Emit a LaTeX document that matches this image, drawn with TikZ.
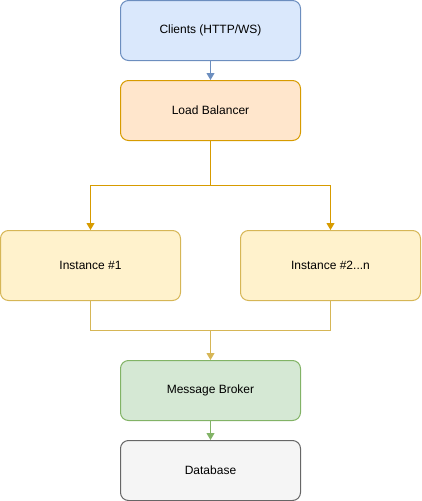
\documentclass[tikz,border=0pt]{standalone}
\usepackage{fontspec}
\setmainfont{Liberation Sans}
\usepackage{tikz}
\usetikzlibrary{arrows.meta}
\usetikzlibrary{calc}

\definecolor{bluefill}{HTML}{DAE8FC}
\definecolor{blueline}{HTML}{6C8EBF}
\definecolor{orangefill}{HTML}{FFE6CC}
\definecolor{orangeline}{HTML}{D79B00}
\definecolor{yellowfill}{HTML}{FFF2CC}
\definecolor{yellowline}{HTML}{D6B656}
\definecolor{greenfill}{HTML}{D5E8D4}
\definecolor{greenline}{HTML}{82B366}
\definecolor{greyfill}{HTML}{F5F5F5}
\definecolor{greyline}{HTML}{666666}

\begin{document}
\begin{tikzpicture}[x=1pt, y=-1pt]%%architecture
                \tikzstyle{box}  = [rectangle, rounded corners=8pt, draw, line width=1pt, minimum width=180pt, minimum height=60pt, inner sep=0pt, font=\fontsize{12}{14}\selectfont]
                \tikzstyle{link} = [line width=1pt, -{Triangle[length=7pt, width=8pt]}]
                \useasboundingbox (0,0) rectangle (421,501);
                \node [box, fill=bluefill, draw=blueline](clients) at (210.5,30.5) {Clients (HTTP/WS)};
                \node [box, fill=orangefill, draw=orangeline](lb) at (210.5,110.5) {Load Balancer};
                \node [box, fill=greenfill, draw=greenline](broker) at (210.5,390.5) {Message Broker};
                \node [box, fill=greyfill, draw=greyline](db) at (210.5,470.5) {Database};
                \coordinate (split) at (210.5,185.5);
                \coordinate (merge) at (210.5,330.5);
                \draw [link, blueline] (clients) -- (lb);
                \foreach \i/\x/\t in {1/90.5/{Instance \#1}, 2/330.5/{Instance \#2.{}.{}.n}}
                {
                        \node [box, fill=yellowfill, draw=yellowline, minimum height=70pt](inst\i) at (\x,265.5) {\t};
                        \draw [link, orangeline] (lb.south) -- (split) -| (inst\i.north);
                        \draw [line width=1pt, yellowline] (inst\i.south) |- (merge);
                }
                \draw [link, yellowline] (merge) -- (broker);
                \draw [link, greenline] (broker) -- (db);
\end{tikzpicture}
\end{document}
